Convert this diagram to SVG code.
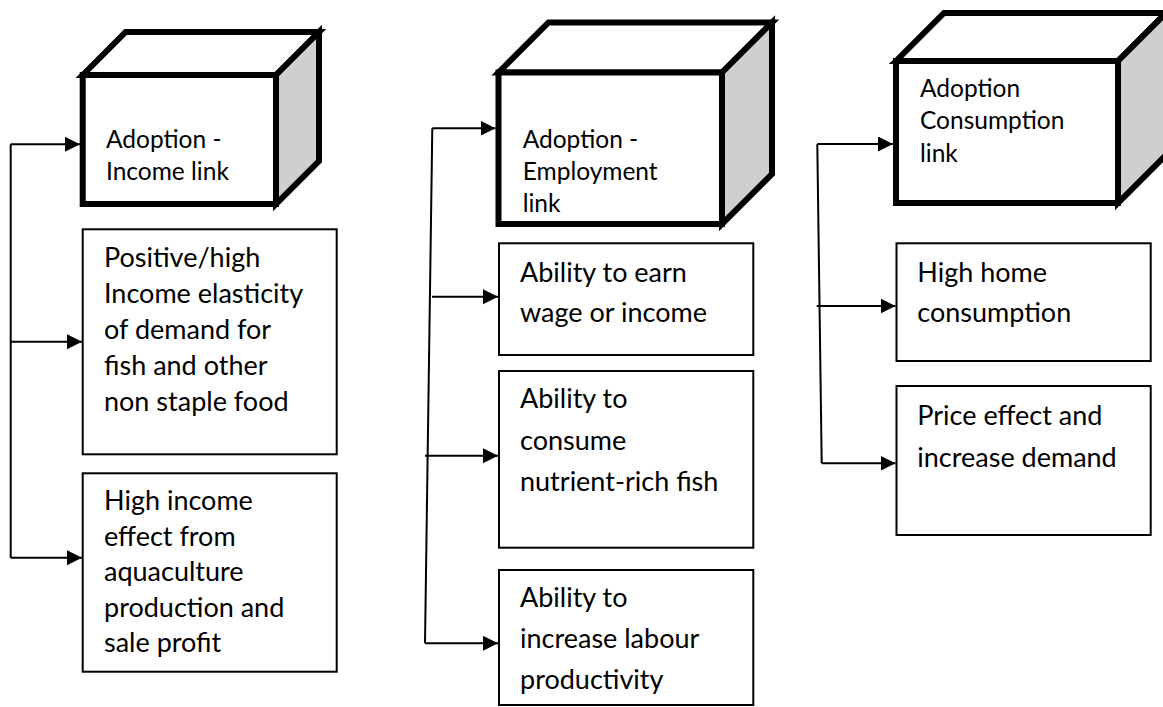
<svg xmlns="http://www.w3.org/2000/svg" width="1163" height="707" viewBox="0 0 1163 707">
<style>
.cube{stroke:#000;stroke-width:6;stroke-linejoin:miter}
.front{fill:#fff}
.top{fill:#fff}
.side{fill:#cfcfcf}
.box{fill:#fff;stroke:#000;stroke-width:2}
.t{font-family:Lato,"Liberation Sans",sans-serif;font-size:27px;fill:#000}
.tc{font-family:Lato,"Liberation Sans",sans-serif;font-size:24.5px;fill:#000}
.c{fill:none;stroke:#000;stroke-width:2}
</style>
<defs>
<marker id="ah" markerUnits="userSpaceOnUse" markerWidth="16" markerHeight="16" refX="15" refY="7.5" orient="auto">
<path d="M0,0 L15,7.5 L0,15 z" fill="#000"/>
</marker>
</defs>
<rect width="1163" height="707" fill="#fff"/>

<g id="cube-income">
<polygon class="cube top" points="82.7,75 125.7,32 319,32 276,75"/>
<polygon class="cube side" points="276,75 319,32 319,161 276,204"/>
<rect class="cube front" x="82.7" y="75" width="193.3" height="129"/>
<text class="tc" x="106" y="148.3">Adoption -</text>
<text class="tc" x="106" y="180">Income link</text>
</g>

<g id="box-elasticity">
<rect class="box" x="82.7" y="229.3" width="254" height="225"/>
<text class="t" x="104" y="267">Positive/high</text>
<text class="t" x="104" y="303">Income elasticity</text>
<text class="t" x="104" y="339">of demand for</text>
<text class="t" x="104" y="375">fish and other</text>
<text class="t" x="104" y="411">non staple food</text>
</g>

<g id="box-income-effect">
<rect class="box" x="82.7" y="473.3" width="254" height="198.4"/>
<text class="t" x="104" y="510">High income</text>
<text class="t" x="104" y="545.5">effect from</text>
<text class="t" x="104" y="581">aquaculture</text>
<text class="t" x="104" y="616.5">production and</text>
<text class="t" x="104" y="652">sale profit</text>
</g>

<g id="cube-employment">
<polygon class="cube top" points="498.5,72.5 548.5,22.5 772,22.5 722,72.5"/>
<polygon class="cube side" points="722,72.5 772,22.5 772,174 722,224"/>
<rect class="cube front" x="498.5" y="72.5" width="223.5" height="151.5"/>
<text class="tc" x="522.7" y="148.3">Adoption -</text>
<text class="tc" x="522.7" y="180">Employment</text>
<text class="tc" x="522.7" y="211.7">link</text>
</g>

<g id="box-wage">
<rect class="box" x="499" y="243.3" width="254.3" height="111.7"/>
<text class="t" x="520" y="281.7">Ability to earn</text>
<text class="t" x="520" y="321.7">wage or income</text>
</g>

<g id="box-consume">
<rect class="box" x="499" y="371" width="254.3" height="176.7"/>
<text class="t" x="520" y="408.3">Ability to</text>
<text class="t" x="520" y="449.5">consume</text>
<text class="t" x="520" y="490.7">nutrient-rich fish</text>
</g>

<g id="box-labour">
<rect class="box" x="499" y="570" width="254.3" height="135"/>
<text class="t" x="520" y="607.3">Ability to</text>
<text class="t" x="520" y="648">increase labour</text>
<text class="t" x="520" y="688.5">productivity</text>
</g>

<g id="cube-consumption">
<polygon class="cube top" points="896,61 944,13 1166,13 1118,61"/>
<polygon class="cube side" points="1118,61 1166,13 1166,155 1118,203"/>
<rect class="cube front" x="896" y="61" width="222" height="142"/>
<text class="tc" x="920" y="96.7">Adoption</text>
<text class="tc" x="920" y="129">Consumption</text>
<text class="tc" x="920" y="162.3">link</text>
</g>

<g id="box-home">
<rect class="box" x="896.5" y="243.3" width="254.2" height="117.7"/>
<text class="t" x="917.3" y="281.7">High home</text>
<text class="t" x="917.3" y="321.7">consumption</text>
</g>

<g id="box-price">
<rect class="box" x="896.5" y="386" width="254.2" height="149"/>
<text class="t" x="917.3" y="425">Price effect and</text>
<text class="t" x="917.3" y="466.7">increase demand</text>
</g>

<g id="connectors">
<path class="c" d="M10.7,144.3 V557.7"/>
<path class="c" d="M10.7,144.3 H80" marker-end="url(#ah)"/>
<path class="c" d="M10.7,341.7 H82" marker-end="url(#ah)"/>
<path class="c" d="M10.7,557.7 H82" marker-end="url(#ah)"/>
<path class="c" d="M432.3,128.3 L425,643.3"/>
<path class="c" d="M432.3,128.3 H495.5" marker-end="url(#ah)"/>
<path class="c" d="M432,296.7 H498" marker-end="url(#ah)"/>
<path class="c" d="M425,455.7 H498" marker-end="url(#ah)"/>
<path class="c" d="M425,643.3 H498" marker-end="url(#ah)"/>
<path class="c" d="M817.3,144 L821.7,463.3"/>
<path class="c" d="M817.3,144 H893" marker-end="url(#ah)"/>
<path class="c" d="M816.7,306 H895.5" marker-end="url(#ah)"/>
<path class="c" d="M821.7,463.3 H895.5" marker-end="url(#ah)"/>
</g>
</svg>
